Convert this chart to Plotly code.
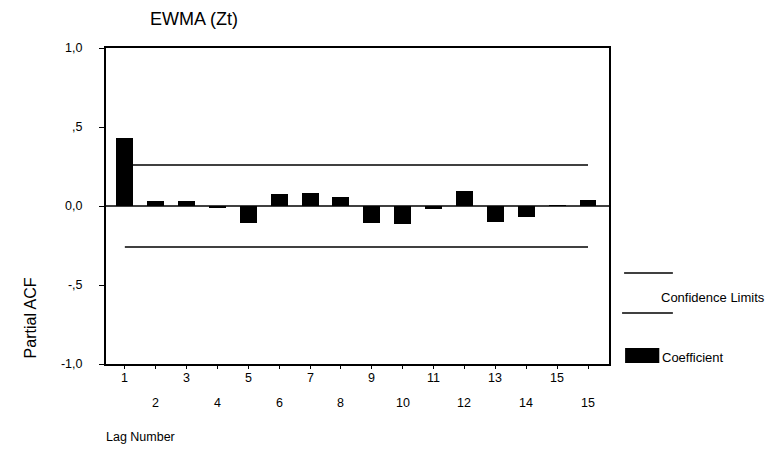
import plotly.graph_objects as go

lags = list(range(1, 17))
pacf = [0.43, 0.03, 0.03, -0.01, -0.11, 0.075, 0.08, 0.06, -0.11, -0.115, -0.02, 0.095, -0.10, -0.07, 0.005, 0.04]
conf_upper = 0.26
conf_lower = -0.26
x_tick_labels = ["1", "2", "3", "4", "5", "6", "7", "8", "9", "10", "11", "12", "13", "14", "15", "15"]
y_tick_vals = [1.0, 0.5, 0.0, -0.5, -1.0]
y_tick_text = ["1,0", ",5", "0,0", "-,5", "-1,0"]

FONT = "Liberation Sans, Arial, sans-serif"

fig = go.Figure()
fig.add_trace(go.Bar(x=lags, y=pacf, width=0.55, marker=dict(color="black", line=dict(width=0)),
                     showlegend=False))
fig.add_trace(go.Scatter(x=[lags[0], lags[-1]], y=[conf_upper, conf_upper], mode="lines",
                         line=dict(color="black", width=1.5), showlegend=False))
fig.add_trace(go.Scatter(x=[lags[0], lags[-1]], y=[conf_lower, conf_lower], mode="lines",
                         line=dict(color="black", width=1.5), showlegend=False))

annotations = []
for i, (lag, lab) in enumerate(zip(lags, x_tick_labels)):
    annotations.append(dict(x=lag, y=0, xref="x", yref="paper", text=lab, showarrow=False,
                            yanchor="top", yshift=-5 if i % 2 == 0 else -30,
                            font=dict(family=FONT, size=12.5, color="black")))

annotations += [
    dict(x=-0.15, y=0.146, xref="paper", yref="paper", text="Partial ACF", textangle=-90,
         showarrow=False, xanchor="center", yanchor="middle",
         font=dict(family=FONT, size=16, color="black")),
    dict(x=-0.004, y=-0.232, xref="paper", yref="paper", text="Lag Number", showarrow=False,
         xanchor="left", yanchor="middle", font=dict(family=FONT, size=12.5, color="black")),
    dict(x=1.1, y=0.212, xref="paper", yref="paper", text="Confidence Limits", showarrow=False,
         xanchor="left", yanchor="middle", font=dict(family=FONT, size=13, color="black")),
    dict(x=1.102, y=0.022, xref="paper", yref="paper", text="Coefficient", showarrow=False,
         xanchor="left", yanchor="middle", font=dict(family=FONT, size=13, color="black")),
]

shapes = [
    dict(type="line", xref="paper", yref="y", x0=0, x1=1, y0=0, y1=0, line=dict(color="black", width=1.5)),
    dict(type="line", xref="paper", yref="paper", x0=1.03, x1=1.127, y0=0.288, y1=0.288, line=dict(color="black", width=1.5)),
    dict(type="line", xref="paper", yref="paper", x0=1.026, x1=1.127, y0=0.161, y1=0.161, line=dict(color="black", width=1.5)),
    dict(type="rect", xref="paper", yref="paper", x0=1.032, x1=1.1, y0=0.003, y1=0.051,
         fillcolor="black", line=dict(width=0)),
]

fig.update_layout(
    width=771, height=457,
    margin=dict(l=106, r=162, t=48, b=93),
    paper_bgcolor="white", plot_bgcolor="white",
    bargap=0,
    title=dict(text="EWMA (Zt)", x=150 / 771, xanchor="left", y=1 - 19 / 457, yanchor="middle",
               font=dict(family=FONT, size=18, color="black")),
    xaxis=dict(range=[0.39, 16.68], tickmode="array", tickvals=lags, showticklabels=False,
               ticks="outside", ticklen=3, tickcolor="black", showgrid=False, zeroline=False,
               showline=True, linecolor="black", linewidth=1.5, mirror=True),
    yaxis=dict(range=[-1.0, 1.0], tickmode="array", tickvals=y_tick_vals, ticktext=y_tick_text,
               ticks="outside", ticklen=5, tickcolor="black", showgrid=False, zeroline=False,
               showline=True, linecolor="black", linewidth=2, mirror=True, ticklabelstandoff=14,
               tickfont=dict(family=FONT, size=12.5, color="black")),
    annotations=annotations,
    shapes=shapes,
)

fig.write_html("out.html")
